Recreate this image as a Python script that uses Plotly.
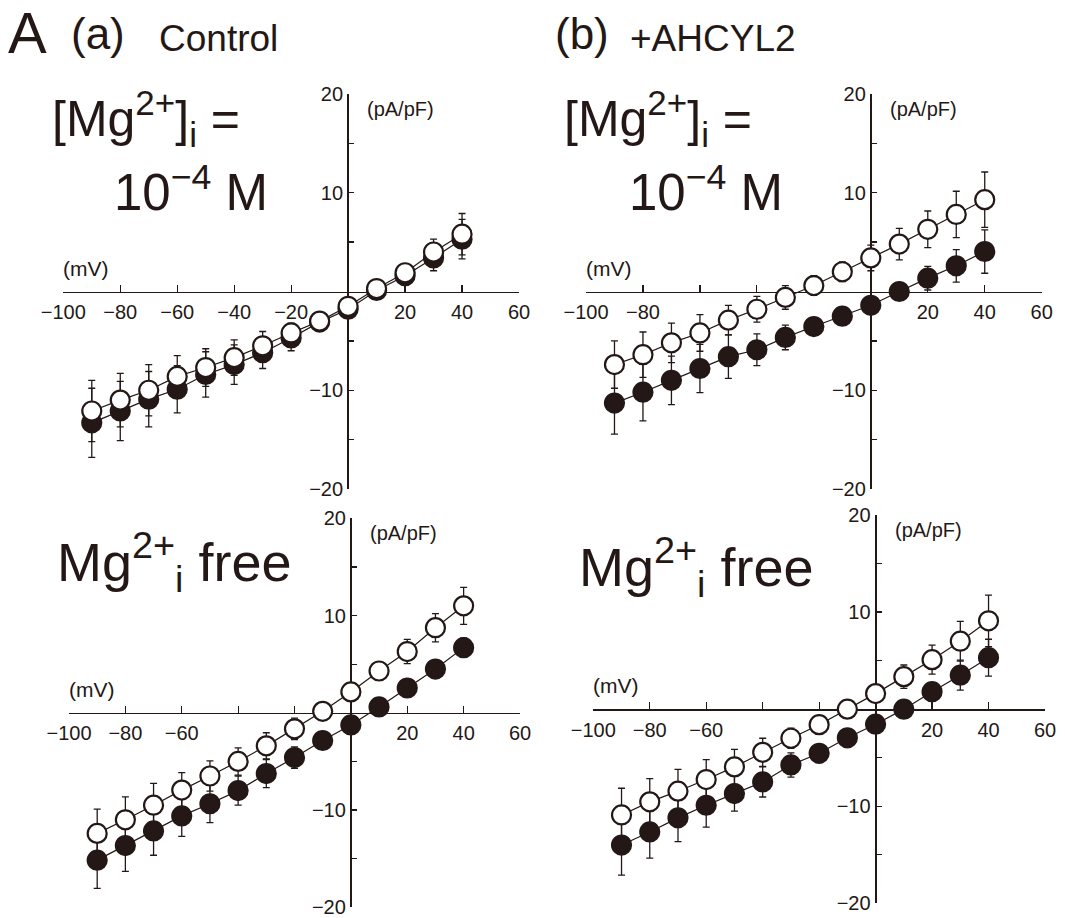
import plotly.graph_objects as go

# ---------------- data ----------------
voltage = [-90, -80, -70, -60, -50, -40, -30, -20, -10, 0, 10, 20, 30, 40]

a_top_open = [-12.1, -11.0, -10.0, -8.6, -7.7, -6.7, -5.5, -4.2, -3.0, -1.5, 0.3, 1.9, 4.0, 5.8]
a_top_open_err = [3.1, 2.7, 2.6, 2.1, 1.9, 1.8, 1.45, 1.0, 0.5, 0.5, 0.5, 0.4, 1.3, 2.1]
a_top_filled = [-13.3, -12.1, -10.9, -9.9, -8.4, -7.4, -6.2, -4.7, -3.1, -1.8, 0.1, 1.6, 3.4, 5.3]
a_top_filled_err = [3.5, 3.0, 2.8, 2.4, 2.3, 2.0, 1.6, 1.3, 0.5, 0.5, 0.5, 0.5, 1.3, 2.0]

b_top_open = [-7.4, -6.4, -5.2, -4.2, -2.9, -1.8, -0.6, 0.6, 2.0, 3.4, 4.8, 6.3, 7.8, 9.3]
b_top_open_err = [2.4, 2.3, 2.0, 1.85, 1.5, 1.3, 1.2, 1.0, 1.0, 1.3, 1.6, 1.85, 2.35, 2.8]
b_top_filled = [-11.3, -10.2, -9.0, -7.8, -6.6, -5.9, -4.65, -3.55, -2.5, -1.4, 0.0, 1.35, 2.6, 4.05]
b_top_filled_err = [3.15, 2.9, 2.45, 2.45, 2.2, 1.6, 1.25, 0.5, 0.5, 0.5, 0.5, 1.2, 1.65, 2.2]

a_bot_open = [-12.4, -11.0, -9.5, -7.95, -6.5, -5.0, -3.4, -1.65, 0.15, 2.15, 4.3, 6.3, 8.75, 11.0]
a_bot_open_err = [2.5, 2.35, 2.25, 1.8, 1.55, 1.4, 1.35, 1.1, 0.5, 0.4, 0.4, 1.25, 1.45, 1.9]
a_bot_filled = [-15.15, -13.65, -12.15, -10.6, -9.35, -8.0, -6.25, -4.6, -2.85, -1.25, 0.6, 2.55, 4.5, 6.7]
a_bot_filled_err = [2.9, 2.65, 2.5, 2.1, 1.95, 1.5, 1.45, 1.1, 0.5, 0.4, 0.4, 0.4, 0.4, 1.0]

b_bot_open = [-10.9, -9.55, -8.45, -7.25, -5.95, -4.45, -3.0, -1.6, 0.0, 1.6, 3.35, 5.1, 7.0, 9.1]
b_bot_open_err = [2.75, 2.4, 2.25, 2.05, 1.8, 1.45, 1.05, 0.5, 0.4, 0.4, 1.2, 1.5, 2.05, 2.65]
b_bot_filled = [-14.0, -12.65, -11.2, -9.9, -8.7, -7.5, -5.75, -4.55, -2.95, -1.55, 0.0, 1.8, 3.5, 5.3]
b_bot_filled_err = [3.1, 2.7, 2.45, 2.25, 1.8, 1.55, 1.25, 0.5, 0.5, 0.4, 0.4, 0.4, 1.55, 1.9]

# labelled x ticks per panel (the other x ticks are unlabelled)
x_all_ticks = [-100, -80, -60, -40, -20, 0, 20, 40, 60]
x_labels_a_top = [-100, -80, -60, -40, -20, 20, 40, 60]
x_labels_b_top = [-100, -80, 20, 40, 60]
x_labels_bot = [-100, -80, -60, 20, 40, 60]
y_label_ticks = [-20, -10, 10, 20]
y_minor_ticks = [-15, -5, 5, 15]

# ---------------- layout helpers ----------------
W, H = 1065, 918
DARK = "#231815"
FONT = "Liberation Sans, Arial, Helvetica, sans-serif"


def px(x):
    return x / W


def py(y):
    return 1 - y / H


def lab(v):
    return ("\u2212" + str(-v)) if v < 0 else str(v)


panels = [
    dict(x0=63.3, x1=519.0, y0=94.0, y1=489.0, open=a_top_open, open_err=a_top_open_err,
         filled=a_top_filled, filled_err=a_top_filled_err, xl=x_labels_a_top),
    dict(x0=586.0, x1=1041.7, y0=94.0, y1=489.0, open=b_top_open, open_err=b_top_open_err,
         filled=b_top_filled, filled_err=b_top_filled_err, xl=x_labels_b_top),
    dict(x0=69.0, x1=520.0, y0=518.3, y1=907.3, open=a_bot_open, open_err=a_bot_open_err,
         filled=a_bot_filled, filled_err=a_bot_filled_err, xl=x_labels_bot),
    dict(x0=593.3, x1=1045.0, y0=515.0, y1=903.3, open=b_bot_open, open_err=b_bot_open_err,
         filled=b_bot_filled, filled_err=b_bot_filled_err, xl=x_labels_bot),
]

XR = [-100, 60]
YR = [-20, 20]

fig = go.Figure()
layout = dict(
    width=W, height=H, margin=dict(l=0, r=0, t=0, b=0, pad=0, autoexpand=False),
    paper_bgcolor="white", plot_bgcolor="rgba(0,0,0,0)",
    showlegend=False, font=dict(family=FONT, color=DARK),
)
annotations = []

for i, p in enumerate(panels):
    n = "" if i == 0 else str(i + 1)
    xa, ya = "x" + n, "y" + n
    zero_x_px = p["x0"] + (0 - XR[0]) / (XR[1] - XR[0]) * (p["x1"] - p["x0"])
    zero_y_px = p["y1"] - (0 - YR[0]) / (YR[1] - YR[0]) * (p["y1"] - p["y0"])

    for kind in ("filled", "open"):
        fig.add_trace(go.Scatter(
            x=voltage, y=p[kind], xaxis=xa, yaxis=ya, mode="lines+markers",
            line=dict(color=DARK, width=1.2),
            marker=dict(size=19, symbol="circle",
                        color=DARK if kind == "filled" else "white",
                        line=dict(color=DARK, width=2.2)),
            error_y=dict(type="data", array=p[kind + "_err"], symmetric=True,
                         color=DARK, thickness=1.3, width=3.5),
            cliponaxis=False, hoverinfo="skip",
        ))

    x_minor = [v for v in x_all_ticks if v not in p["xl"]]
    layout["xaxis" + n] = dict(
        domain=[px(p["x0"]), px(p["x1"])], range=XR, anchor="free", position=py(zero_y_px),
        automargin=False, showline=True, linecolor=DARK, linewidth=1.5,
        ticks="inside", ticklen=7, tickwidth=1.2, tickcolor=DARK,
        tickmode="array", tickvals=p["xl"], ticktext=[lab(v) for v in p["xl"]],
        minor=dict(tickmode="array", tickvals=x_minor, ticks="inside", ticklen=7,
                   tickwidth=1.2, tickcolor=DARK, showgrid=False),
        tickfont=dict(size=20, family=FONT, color=DARK), showgrid=False, zeroline=False,
        layer="below traces", ticklabelstandoff=2, ticklabeloverflow="allow",
    )
    layout["yaxis" + n] = dict(
        domain=[py(p["y1"]), py(p["y0"])], range=YR, anchor="free", position=px(zero_x_px),
        automargin=False, side="left", showline=True, linecolor=DARK, linewidth=2,
        ticks="inside", ticklen=5, tickwidth=1.3, tickcolor=DARK,
        tickmode="array", tickvals=y_label_ticks, ticktext=[lab(v) for v in y_label_ticks],
        minor=dict(tickmode="array", tickvals=y_minor_ticks, ticks="inside", ticklen=5,
                   tickwidth=1.3, tickcolor=DARK, showgrid=False),
        tickfont=dict(size=20, family=FONT, color=DARK), showgrid=False, zeroline=False,
        layer="below traces", ticklabelstandoff=0, ticklabeloverflow="allow",
    )
    annotations.append(dict(text="(mV)", xref="paper", yref="paper",
                            x=px(p["x0"] - 2), y=py(zero_y_px - 10), xanchor="left", yanchor="bottom",
                            showarrow=False, font=dict(size=21, family=FONT, color=DARK)))
    annotations.append(dict(text="(pA/pF)", xref="paper", yref="paper",
                            x=px(zero_x_px + 17), y=py(p["y0"] + 15), xanchor="left", yanchor="middle",
                            showarrow=False, font=dict(size=20, family=FONT, color=DARK)))


def txt(s, x, y, size, xanchor="left", yanchor="middle"):
    annotations.append(dict(text=s, xref="paper", yref="paper", x=px(x), y=py(y),
                            xanchor=xanchor, yanchor=yanchor, showarrow=False,
                            font=dict(size=size, family=FONT, color=DARK)))


# header
txt("A", 6, 33, 58)
txt("(a)", 69, 34, 44)
txt("Control", 157, 38, 37)
txt("(b)", 553, 34, 44)
txt("+AHCYL2", 628, 38, 37)

# condition labels
txt("[Mg<sup>2+</sup>]<sub>i</sub> =", 50, 118, 50)
txt("10<sup>\u22124</sup> M", 112, 189, 51)
txt("[Mg<sup>2+</sup>]<sub>i</sub> =", 562, 118, 50)
txt("10<sup>\u22124</sup> M", 627, 189, 51)
txt("Mg<sup>2+</sup><sub>i</sub> free", 55, 562, 54)
txt("Mg<sup>2+</sup><sub>i</sub> free", 577, 567, 54)

layout["annotations"] = annotations
fig.update_layout(**layout)
# the page body has a default 8px margin; remove it so the figure starts at the window corner
fig.write_html(
    "out.html",
    config={"displayModeBar": False, "staticPlot": True},
    post_script="document.body.style.margin='0px';document.body.style.overflow='hidden';",
)
